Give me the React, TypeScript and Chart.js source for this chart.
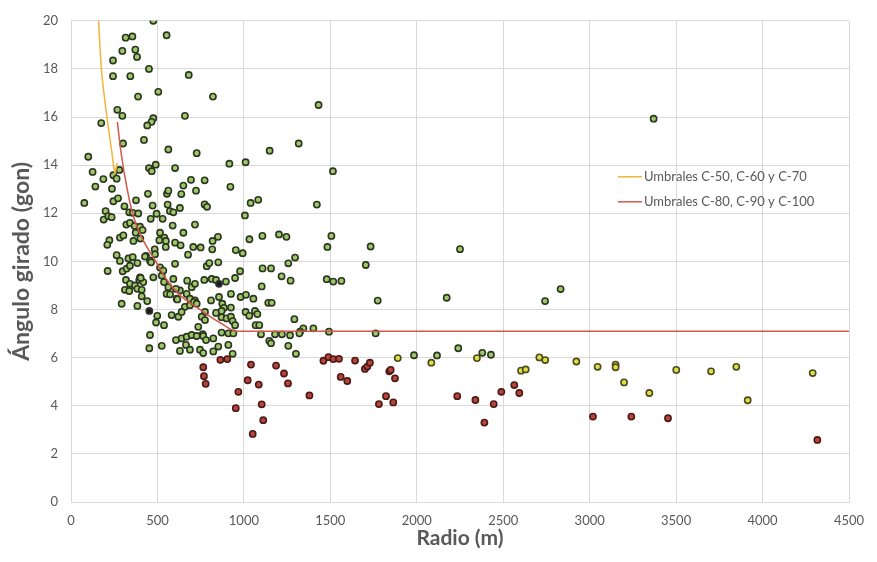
import React, { useEffect, useRef } from "react";
import { Chart, registerables } from "chart.js";
Chart.register(...registerables);

const X_MIN = 0, X_MAX = 4500, X_STEP = 500;
const Y_MIN = 0, Y_MAX = 20, Y_STEP = 2;
const X_TITLE = "Radio (m)";
const Y_TITLE = "Ángulo girado (gon)";
const LEGEND_LABELS = ["Umbrales C-50, C-60 y C-70", "Umbrales C-80, C-90 y C-100"];

// threshold curves [radio, angulo]
const orangeLine: [number, number][] = [
  [157, 20.3], [177, 17.9], [206, 16.1], [235, 14.6], [254, 13.66], [262, 13.9], [268, 14.1],
];
const redLine: [number, number][] = [
  [268, 15.8], [290, 14.5], [325, 13.0], [360, 11.9], [409, 11.0], [486, 10.05], [553, 9.25],
  [630, 8.6], [717, 8.15], [785, 7.8], [870, 7.42], [958, 7.1], [4500, 7.1],
];

const greenPoints: [number, number][] = [
  [476,20.0],[316,19.3],[355,19.35],[553,19.4],[297,18.75],[372,18.8],[382,18.5],[243,18.35],[451,18.0],[243,17.7],
  [343,17.7],[681,17.75],[505,17.05],[388,16.85],[821,16.85],[1432,16.5],[659,16.05],[268,16.3],[297,16.05],[175,15.75],
  [476,15.95],[466,15.8],[441,15.65],[422,15.05],[301,14.9],[100,14.35],[563,14.65],[727,14.5],[1149,14.6],[1317,14.9],
  [3370,15.93],
  [125,13.72],[187,13.42],[245,13.58],[264,13.44],[280,13.8],[451,13.88],[467,13.75],[490,14.02],[602,13.88],[916,14.06],
  [1010,14.12],[1515,13.75],[141,13.11],[237,13.02],[694,13.39],[773,13.37],[650,13.15],[922,13.1],
  [77,12.43],[245,12.5],[272,12.62],[309,12.29],[376,12.54],[445,12.81],[472,12.32],[555,12.81],[563,12.94],[638,12.8],
  [723,12.94],[559,12.36],[630,12.22],[773,12.37],[787,12.27],[1039,12.43],[1083,12.56],[1422,12.36],[1006,11.91],[200,12.09],
  [189,11.74],[216,11.88],[235,11.84],[337,12.04],[357,12.02],[389,11.99],[495,11.98],[461,11.77],[530,11.77],[572,12.09],
  [592,12.04],
  [320,11.53],[341,11.6],[368,11.47],[399,11.44],[414,11.3],[374,11.19],[588,11.49],[717,11.53],[515,11.19],[540,10.99],
  [549,10.85],[650,11.19],[602,10.78],[634,10.67],[850,11.02],[819,10.85],[1032,10.92],[1107,11.06],[1203,11.12],[1246,11.02],
  [1506,11.06],[1483,10.6],[1733,10.62],[2250,10.51],[283,10.99],[303,11.08],[222,10.88],[210,10.69],[361,10.85],[401,10.95],
  [264,10.26],[332,10.12],[357,10.18],[434,10.23],[484,10.5],[486,10.3],[511,10.88],[677,10.28],[707,10.6],[750,10.58],
  [817,10.5],[953,10.47],[993,10.34],[1296,10.16],[283,10.02],[384,9.93],[428,10.2],[457,10.03],[548,10.6],[463,9.96],
  [602,9.9],[785,9.8],[800,9.93],[852,9.96],[1108,9.71],[1157,9.71],[1257,9.92],[1218,9.38],[1270,9.2],[1479,9.26],
  [1705,9.85],[1564,9.19],[212,9.6],[299,9.59],[322,9.7],[341,9.82],[399,9.34],[476,9.34],[525,9.41],[515,9.75],
  [534,9.62],[538,9.14],[592,9.27],[318,9.23],[341,9.07],[370,9.0],[395,9.23],[418,9.14],[403,9.31],[672,9.2],
  [698,8.93],[717,9.07],[630,8.79],[563,8.93],[607,8.86],[771,9.23],[814,9.27],[839,9.23],[896,9.16],[949,9.31],
  [978,9.59],[1103,8.96],[1517,9.16],
  [312,8.82],[337,8.77],[384,8.86],[409,8.82],[409,8.55],[441,8.35],[293,8.24],[384,8.15],[553,8.65],[573,8.63],
  [611,8.45],[669,8.65],[688,8.45],[717,8.38],[615,8.42],[925,8.65],[981,8.52],[1012,8.61],[1055,8.45],[1141,8.28],
  [1161,8.28],[810,8.38],[875,8.24],[885,8.07],[856,8.52],[1774,8.37],[2173,8.49],[2742,8.35],[2832,8.85],[659,8.11],
  [688,8.18],[711,8.31],[727,8.24],[925,8.08],
  [499,7.74],[492,7.46],[538,7.35],[582,7.77],[621,7.7],[640,7.9],[736,7.28],[775,7.9],[756,7.7],[775,7.56],
  [839,7.86],[871,7.68],[900,7.63],[925,7.7],[935,7.52],[949,7.35],[871,7.94],[1010,7.9],[1031,7.74],[1064,7.94],
  [1078,7.81],[1068,7.35],[1089,7.35],[1292,7.6],[1344,7.22],[1402,7.22],[1492,7.08],[1762,7.01],[1325,7.08],
  [457,6.94],[525,6.49],[453,6.39],[607,6.73],[640,6.8],[669,6.87],[698,6.94],[727,6.9],[762,6.98],[665,6.53],
  [688,6.33],[630,6.28],[746,6.33],[765,6.9],[781,6.73],[823,6.8],[871,7.04],[910,7.01],[939,7.01],[852,6.46],
  [910,6.53],[823,6.26],[935,6.16],[765,6.19],[1099,6.97],[1180,6.97],[1220,6.97],[1267,6.93],[1321,7.01],[1147,6.7],
  [1157,6.6],[1257,6.49],[1301,6.16],[2240,6.39],[1984,6.1],[2117,6.09],[2379,6.2],[2429,6.12],
];

const darkPoints: [number, number][] = [[856, 9.07], [453, 7.94]];

const yellowPoints: [number, number][] = [
  [1890,5.98],[2084,5.79],[2348,5.98],[2603,5.46],[2630,5.51],[2709,6.01],[2743,5.9],[2923,5.84],[3046,5.62],[3150,5.71],
  [3150,5.6],[3199,4.97],[3345,4.53],[3501,5.49],[3702,5.43],[3848,5.62],[3914,4.23],[4290,5.36],
];

const redPoints: [number, number][] = [
  [765,5.6],[769,5.23],[779,4.91],[864,5.91],[904,5.94],[1041,5.71],[1022,5.06],[1086,4.88],[968,4.58],[953,3.9],
  [1103,4.06],[1112,3.4],[1051,2.83],[1186,5.67],[1232,5.34],[1255,4.93],[1379,4.43],[1460,5.87],[1489,6.02],[1517,5.94],
  [1550,5.95],[1560,5.2],[1598,5.03],[1643,5.88],[1700,5.53],[1714,5.63],[1729,5.79],[1841,5.43],[1849,5.49],[1874,5.14],
  [1822,4.4],[1781,4.07],[1864,4.14],[2234,4.4],[2339,4.24],[2391,3.3],[2445,4.07],[2489,4.58],[2564,4.86],[2593,4.53],
  [3019,3.55],[3241,3.55],[3453,3.48],[4317,2.58],
];

const FONT = "Lato, 'Open Sans', sans-serif";
const TEXT = "#595959";
const ORANGE = "#f2b43c";
const RED = "#d4574a";

const toXY = (arr: [number, number][]) => arr.map(([x, y]) => ({ x, y }));

const legendPlugin = {
  id: "customLegend",
  afterDraw(chart: any) {
    const ctx = chart.ctx;
    const { left, top } = chart.chartArea;
    const items = [
      { color: ORANGE, label: LEGEND_LABELS[0], dy: 156 },
      { color: RED, label: LEGEND_LABELS[1], dy: 181 },
    ];
    ctx.save();
    ctx.font = `13px ${FONT}`;
    ctx.fillStyle = TEXT;
    ctx.textBaseline = "middle";
    items.forEach((it) => {
      const y = top + it.dy;
      const x0 = left + 547;
      ctx.strokeStyle = it.color;
      ctx.lineWidth = 1.5;
      ctx.beginPath();
      ctx.moveTo(x0, y);
      ctx.lineTo(x0 + 24, y);
      ctx.stroke();
      ctx.fillText(it.label, x0 + 26, y);
    });
    ctx.restore();
  },
};

export default function App() {
  const ref = useRef<HTMLCanvasElement | null>(null);
  useEffect(() => {
    if (!ref.current) return;
    const pointDs = (data: [number, number][], fill: string, border: string) => ({
      data: toXY(data),
      backgroundColor: fill,
      borderColor: border,
      borderWidth: 1.6,
      pointRadius: 3.1,
      showLine: false,
    });
    const chart = new Chart(ref.current, {
      type: "scatter",
      data: {
        datasets: [
          {
            data: toXY(orangeLine), showLine: true, borderColor: ORANGE, borderWidth: 1.5,
            pointRadius: 0, tension: 0.3, fill: false,
          } as any,
          {
            data: toXY(redLine), showLine: true, borderColor: RED, borderWidth: 1.5,
            pointRadius: 0, tension: 0.3, cubicInterpolationMode: "monotone", fill: false,
          } as any,
          pointDs(darkPoints, "#1a1a1a", "#333333"),
          pointDs(redPoints, "#b8443c", "#4a1a16"),
          pointDs(yellowPoints, "#e0e040", "#4a4a22"),
          pointDs(greenPoints, "#9cca66", "#2c3422"),
        ],
      },
      plugins: [legendPlugin],
      options: {
        animation: false,
        responsive: false,
        layout: { padding: { top: 16, right: 28, left: 0, bottom: 0 } },
        plugins: { legend: { display: false }, tooltip: { enabled: false } },
        scales: {
          x: {
            type: "linear", min: X_MIN, max: X_MAX,
            afterFit: (s: any) => { s.height = 60; },
            ticks: { stepSize: X_STEP, color: TEXT, font: { family: FONT, size: 13 }, padding: 11, maxRotation: 0,
              callback: (v: any) => String(v) },
            grid: { color: "#d9d9d9", drawTicks: false },
            border: { color: "#d9d9d9" },
            title: { display: true, text: X_TITLE, color: TEXT, font: { family: FONT, size: 21, weight: "bold" }, padding: { top: 0, bottom: 11 } },
          },
          y: {
            type: "linear", min: Y_MIN, max: Y_MAX,
            afterFit: (s: any) => { s.width = 71; },
            ticks: { stepSize: Y_STEP, color: TEXT, font: { family: FONT, size: 13 }, padding: 13,
              callback: (v: any) => String(v) },
            grid: { color: "#d9d9d9", drawTicks: false },
            border: { color: "#d9d9d9" },
            title: { display: true, text: Y_TITLE, color: TEXT, font: { family: FONT, size: 23, weight: "bold" }, padding: { top: 8, bottom: 0 } },
          },
        },
      } as any,
    });
    return () => chart.destroy();
  }, []);
  return (
    <div style={{ position: "fixed", left: 0, top: 0, width: 877, height: 562, background: "#fff" }}>
      <canvas ref={ref} width={877} height={562} />
    </div>
  );
}
